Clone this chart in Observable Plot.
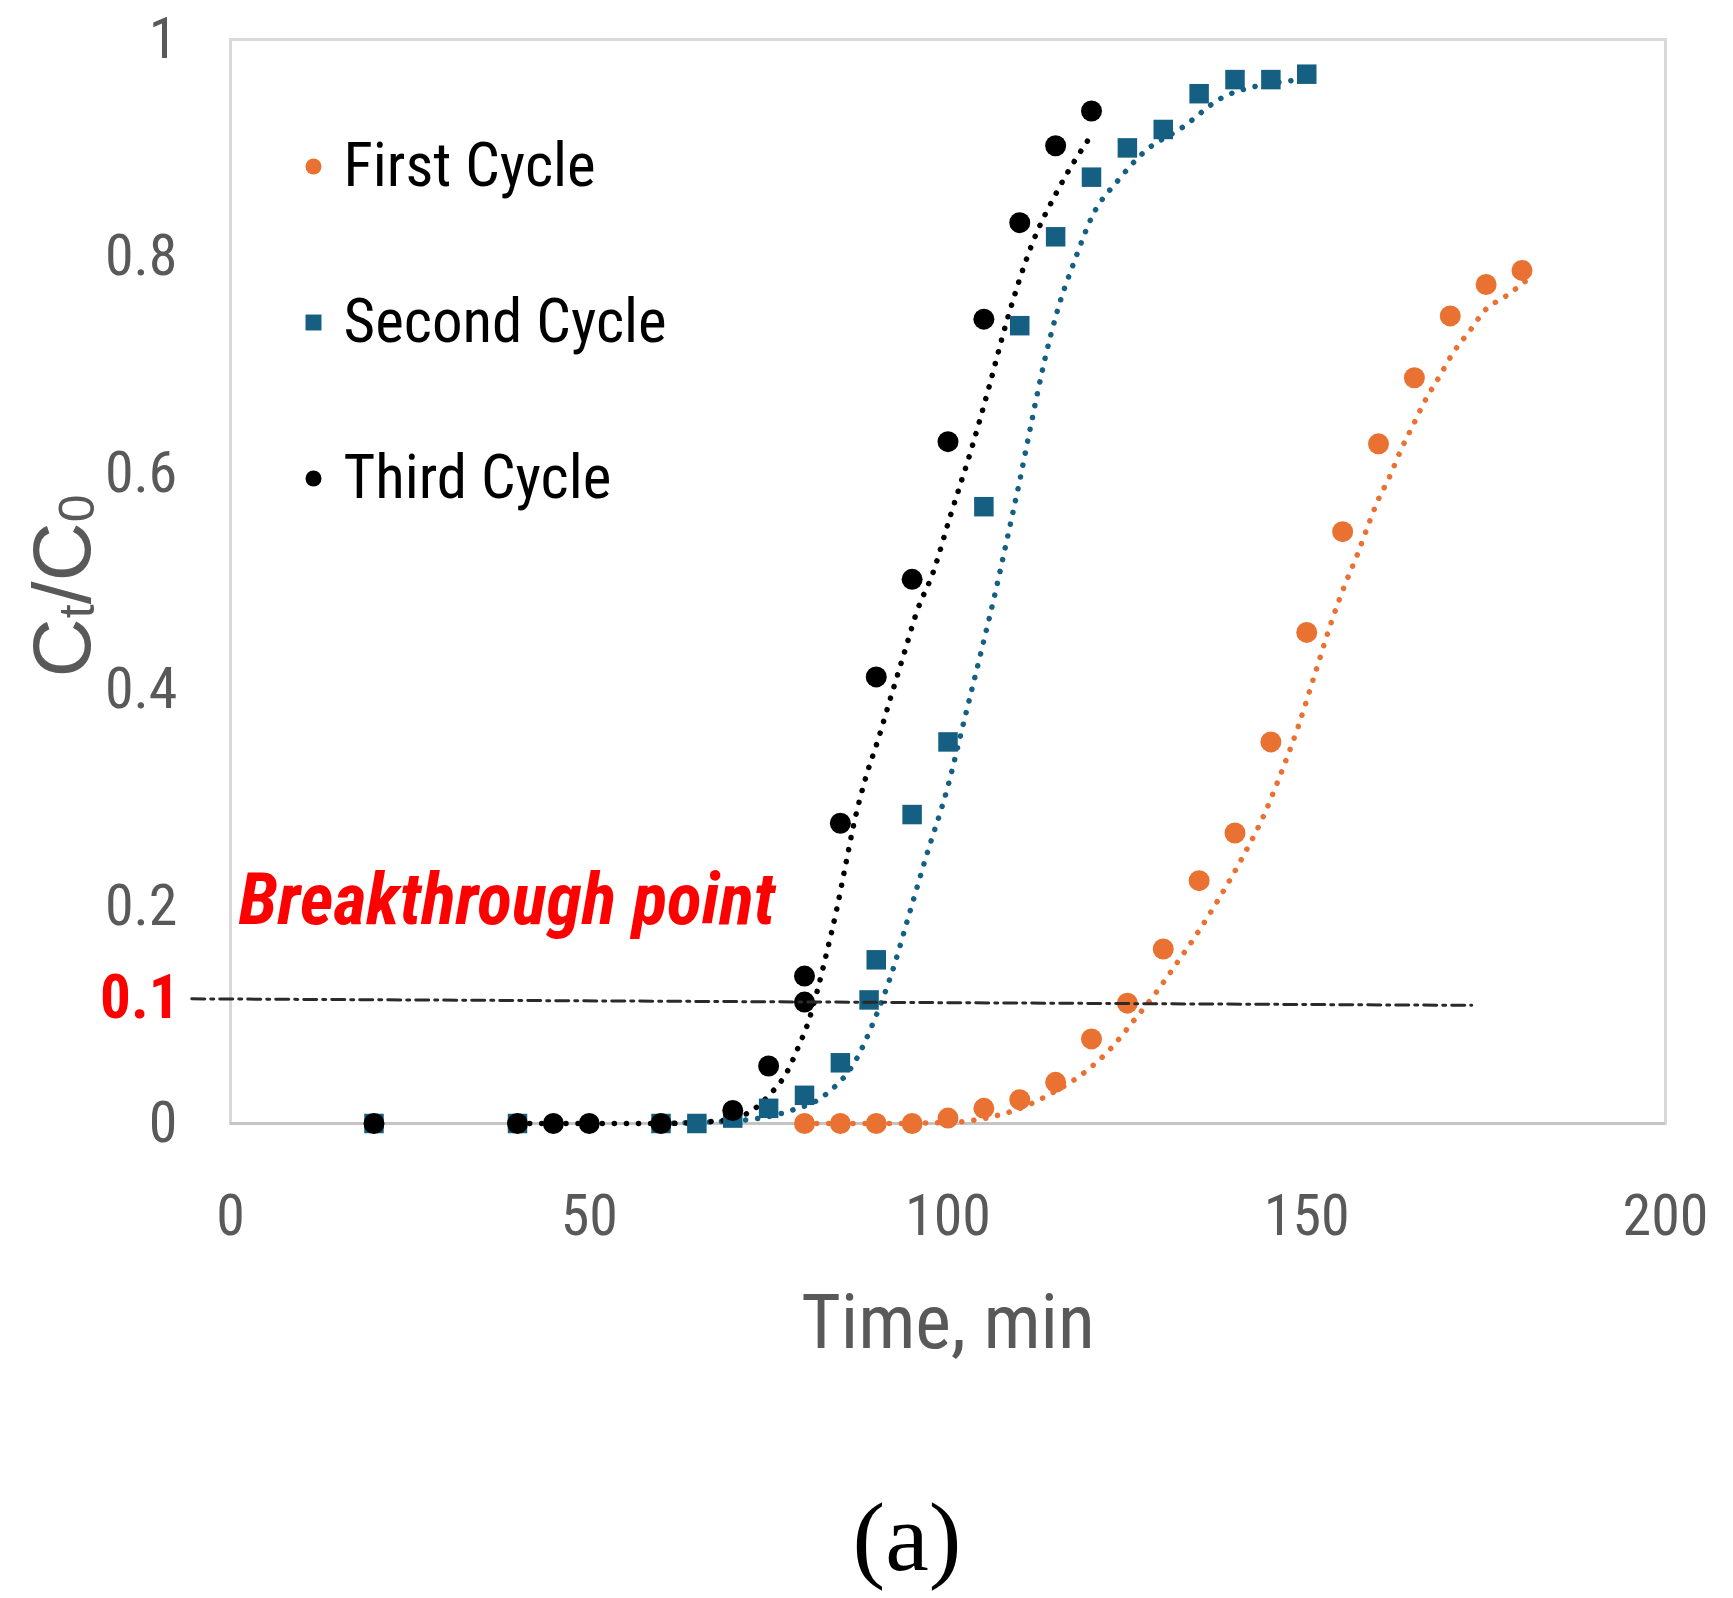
<!DOCTYPE html>
<html>
<head>
<meta charset="utf-8">
<script src="https://cdn.jsdelivr.net/npm/d3@7"></script>
<script src="https://cdn.jsdelivr.net/npm/@observablehq/plot@0.6"></script>
<style>
  body { margin: 0; background: #fff; }
  #chart svg { display: block; }
</style>
</head>
<body>
<div id="chart"></div>
<script>
const seriesNames = ['First Cycle', 'Second Cycle', 'Third Cycle'];
const seriesColors = ['#E97132', '#156082', '#000000'];

// measured points, Ct/C0 against time (min)
const firstTime = [80, 85, 90, 95, 100, 105, 110, 115, 120, 125, 130, 135, 140, 145, 150, 155, 160, 165, 170, 175, 180];
const firstCt = [0, 0, 0, 0, 0.005, 0.014, 0.022, 0.038, 0.078, 0.111, 0.161, 0.224, 0.268, 0.352, 0.453, 0.546, 0.627, 0.688, 0.745, 0.774, 0.787];

const secondTime = [20, 40, 60, 65, 70, 75, 80, 85, 89, 90, 95, 100, 105, 110, 115, 120, 125, 130, 135, 140, 145, 150];
const secondCt = [0, 0, 0, 0, 0.005, 0.014, 0.026, 0.056, 0.114, 0.151, 0.285, 0.352, 0.569, 0.736, 0.818, 0.873, 0.900, 0.917, 0.950, 0.963, 0.963, 0.968];

const thirdTime = [20, 40, 45, 50, 60, 70, 75, 80, 80, 85, 90, 95, 100, 105, 110, 115, 120];
const thirdCt = [0, 0, 0, 0, 0, 0.012, 0.053, 0.112, 0.136, 0.277, 0.412, 0.502, 0.629, 0.742, 0.831, 0.902, 0.934];

// dotted trend lines
const firstFitTime = [80, 90, 100.5, 105.3, 110.8, 115.0, 119.2, 122.8, 125.9, 128.9, 131.9, 134.9, 137.9, 141.0, 144.0, 146.4, 148.8, 151.2, 153.6, 155.5, 157.0, 158.4, 159.8, 161.5, 163.1, 164.8, 166.5, 168.4, 170.4, 172.7, 174.8, 177.7, 180.5];
const firstFitCt = [0, 0, 0.001, 0.005, 0.016, 0.030, 0.048, 0.070, 0.095, 0.120, 0.148, 0.177, 0.209, 0.245, 0.284, 0.323, 0.366, 0.416, 0.466, 0.500, 0.524, 0.549, 0.573, 0.596, 0.621, 0.644, 0.667, 0.688, 0.711, 0.731, 0.750, 0.763, 0.777];

const secondFitTime = [60, 65, 72.8, 77.6, 83.0, 87.2, 89.7, 92.1, 94.5, 96.9, 99.9, 102.3, 104.7, 106.6, 108.1, 109.9, 111.7, 113.5, 115.3, 117.7, 120.1, 123.7, 127.3, 132.7, 138.1, 143.0, 147.8, 150];
const secondFitCt = [0, 0.001, 0.004, 0.011, 0.027, 0.059, 0.095, 0.1375, 0.191, 0.245, 0.309, 0.373, 0.4375, 0.49, 0.535, 0.590, 0.649, 0.705, 0.751, 0.797, 0.837, 0.870, 0.896, 0.919, 0.946, 0.957, 0.962, 0.964];

const thirdFitTime = [40, 50, 60, 65, 69.7, 72.8, 75.2, 77.6, 79.1, 80.6, 81.8, 83.0, 84.5, 85.7, 86.9, 88.4, 90.3, 92.1, 93.9, 95.7, 97.9, 100.3, 103.3, 105.7, 108.1, 111.7, 115.3, 120.1];
const thirdFitCt = [0, 0, 0, 0.001, 0.004, 0.0125, 0.027, 0.048, 0.070, 0.095, 0.123, 0.155, 0.198, 0.2375, 0.277, 0.316, 0.355, 0.395, 0.434, 0.473, 0.508, 0.560, 0.623, 0.679, 0.738, 0.811, 0.861, 0.913];

// breakthrough line (dash-dot) and its labels
const breakLineTime = [-5.4, 173];
const breakLineCt = [0.115, 0.109];
const breakLabel = ['Breakthrough point'];
const breakLabelTime = [1.1];
const breakLabelCt = [0.205];
const breakTickLabel = ['0.1'];

const xTicks = [0, 50, 100, 150, 200];
const yTicks = [0, 0.2, 0.4, 0.6, 0.8, 1];

const narrow = "'Liberation Sans Narrow', 'Arial Narrow', 'Roboto Condensed', sans-serif";

function rows(name, times, values) {
  return times.map((t, i) => ({series: name, time: t, ct: values[i]}));
}

const points = [
  ...rows(seriesNames[0], firstTime, firstCt),
  ...rows(seriesNames[1], secondTime, secondCt),
  ...rows(seriesNames[2], thirdTime, thirdCt),
];
const fits = [
  ...rows(seriesNames[0], firstFitTime, firstFitCt),
  ...rows(seriesNames[1], secondFitTime, secondFitCt),
  ...rows(seriesNames[2], thirdFitTime, thirdFitCt),
];
const breakLine = breakLineTime.map((t, i) => ({time: t, ct: breakLineCt[i]}));

// legend rows, top-left inside the frame
const legendMarks = seriesNames.flatMap((name, i) => [
  Plot.dot([name], {
    frameAnchor: 'top-left', dx: 83, dy: 127 + 156 * i,
    fill: seriesColors[i], r: i == 1 ? 9 : 8,
    symbol: i == 1 ? 'square' : 'circle',
  }),
  Plot.text([name], {
    frameAnchor: 'top-left', dx: 113, dy: 127 + 156 * i,
    text: (d) => d, textAnchor: 'start', lineAnchor: 'middle',
    fill: '#000', fontSize: 61, fontFamily: narrow,
  }),
]);

const chart = Plot.plot({
  width: 1733,
  height: 1598,
  marginLeft: 230,
  marginRight: 68,
  marginTop: 39,
  marginBottom: 475,
  x: {domain: [0, 200], ticks: xTicks, tickSize: 0, tickPadding: 70, label: null},
  y: {domain: [0, 1], ticks: yTicks, tickSize: 0, tickPadding: 53, label: null, tickFormat: d3.format('~g')},
  color: {domain: seriesNames, range: seriesColors},
  style: {
    'background-color': '#fff',
    color: '#595959',
    'font-family': narrow,
    'font-size': '58px',
  },
  marks: [
    Plot.frame({stroke: '#d9d9d9', strokeWidth: 3}),
    Plot.ruleY([0], {stroke: '#c4c4c4', strokeWidth: 3}),
    Plot.line(fits, {
      x: 'time', y: 'ct', z: 'series', stroke: 'series',
      strokeWidth: 5.5, strokeDasharray: '0.1,12', strokeLinecap: 'round',
      curve: 'monotone-x',
    }),
    Plot.dot(points.filter((d) => d.series == seriesNames[0]), {x: 'time', y: 'ct', fill: seriesColors[0], r: 10.5}),
    Plot.dot(points.filter((d) => d.series == seriesNames[1]), {x: 'time', y: 'ct', fill: seriesColors[1], r: 11, symbol: 'square'}),
    Plot.dot(points.filter((d) => d.series == seriesNames[2]), {x: 'time', y: 'ct', fill: seriesColors[2], r: 10.5}),
    Plot.line(breakLine, {x: 'time', y: 'ct', stroke: '#2a2a2a', strokeWidth: 3, strokeDasharray: '13,6,3,6'}),
    Plot.text(breakLabel, {
      x: breakLabelTime, y: breakLabelCt, text: (d) => d, textAnchor: 'start',
      fill: '#ff0000', fontSize: 72, fontWeight: 'bold', fontStyle: 'italic', fontFamily: narrow,
    }),
    Plot.text(breakTickLabel, {
      frameAnchor: 'left', y: [breakLineCt[0]], dx: -51, text: (d) => d, textAnchor: 'end',
      fill: '#ff0000', fontSize: 61, fontWeight: 'bold',
    }),
    ...legendMarks,
    Plot.text(['Time, min'], {frameAnchor: 'bottom', dy: 224, text: (d) => d, fontSize: 76, fill: '#595959'}),
    Plot.text(['(a)'], {frameAnchor: 'bottom', dy: 446, dx: -41, text: (d) => d, fontSize: 98, fill: '#000', fontFamily: "'Liberation Serif', 'Times New Roman', serif"}),
  ],
});

d3.select('#chart').append(() => chart);

// y title with subscripts: Ct/C0
const yTitle = d3.select(chart).append('text')
  .attr('transform', 'translate(61,586) rotate(-90)')
  .attr('text-anchor', 'middle')
  .attr('dominant-baseline', 'central')
  .attr('fill', '#595959')
  .attr('font-family', "'Liberation Sans', sans-serif")
  .attr('font-size', 82);
yTitle.append('tspan').text('C');
yTitle.append('tspan').attr('font-size', 50).attr('dy', 16).text('t');
yTitle.append('tspan').attr('dy', -16).text('/C');
yTitle.append('tspan').attr('font-size', 50).attr('dy', 16).text('0');
</script>
</body>
</html>
